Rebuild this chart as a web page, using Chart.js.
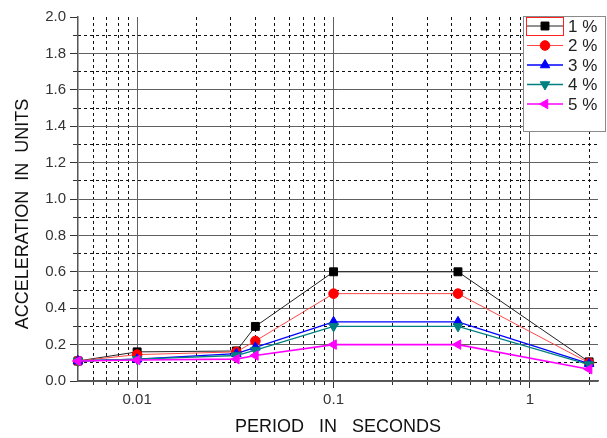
<!DOCTYPE html>
<html>
<head>
<meta charset="utf-8">
<script src="https://cdn.jsdelivr.net/npm/chart.js@4/dist/chart.umd.min.js"></script>
<style>
html,body{margin:0;padding:0;background:#fff;}
#wrap{position:relative;width:607px;height:438px;}
</style>
</head>
<body>
<div id="wrap"><canvas id="c" width="607" height="438"></canvas></div>
<script>
// ---- data ----
const periods = [0.005, 0.01, 0.032, 0.04, 0.1, 0.43, 2.0];
const seriesLabels = ['1 %', '2 %', '3 %', '4 %', '5 %'];
const damp1 = [0.11, 0.16, 0.165, 0.30, 0.60, 0.60, 0.105];
const damp2 = [0.11, 0.145, 0.16, 0.22, 0.48, 0.48, 0.10];
const damp3 = [0.11, 0.12, 0.15, 0.185, 0.325, 0.325, 0.095];
const damp4 = [0.11, 0.12, 0.14, 0.17, 0.30, 0.30, 0.09];
const damp5 = [0.11, 0.115, 0.12, 0.14, 0.20, 0.20, 0.065];
const xMajorTicks = [0.01, 0.1, 1];
const xMinorTicks = [0.006, 0.007, 0.008, 0.009, 0.02, 0.03, 0.04, 0.05, 0.06, 0.07, 0.08, 0.09,
                     0.2, 0.3, 0.4, 0.5, 0.6, 0.7, 0.8, 0.9, 2];
const yMajorTicks = [0, 0.2, 0.4, 0.6, 0.8, 1.0, 1.2, 1.4, 1.6, 1.8, 2.0];
const yMinorTicks = [0.1, 0.3, 0.5, 0.7, 0.9, 1.1, 1.3, 1.5, 1.7, 1.9];
const xRange = [0.005, 2.22];
const yRange = [0, 2];

// ---- styles ----
const styles = [
  {line:'#222222', fill:'#000000', point:'rect', radius:5.6, rot:0, width:1},
  {line:'#ff4848', fill:'#ff0000', point:'circle', radius:4.8, rot:0, width:1},
  {line:'#0000ff', fill:'#0000ff', point:'triangle', radius:5.5, rot:0, width:1.3},
  {line:'#008080', fill:'#008080', point:'triangle', radius:5.5, rot:180, width:1.3},
  {line:'#ff00ff', fill:'#ff00ff', point:'triangle', radius:5.5, rot:270, width:1.6}
];
const allSeries = [damp1, damp2, damp3, damp4, damp5];

const datasets = allSeries.map((vals, i) => ({
  label: seriesLabels[i],
  data: periods.map((p, j) => ({x: p, y: vals[j]})),
  borderColor: styles[i].line,
  borderWidth: styles[i].width,
  pointStyle: styles[i].point,
  pointRadius: styles[i].radius,
  pointRotation: styles[i].rot,
  pointBackgroundColor: styles[i].fill,
  pointBorderColor: styles[i].fill,
  pointBorderWidth: 1,
  tension: 0,
  fill: false,
  clip: false,
  order: 5 - i
}));

const FONT = '"Liberation Sans", Arial, sans-serif';

const legendPlugin = {
  id: 'boxLegend',
  afterDraw(chart) {
    const ctx = chart.ctx;
    const bx = 523.5, by = 16.5, bw = 82, bh = 115;
    ctx.save();
    ctx.fillStyle = '#ffffff';
    ctx.fillRect(bx, by, bw, bh);
    ctx.strokeStyle = '#8a8a8a';
    ctx.lineWidth = 1;
    ctx.strokeRect(bx, by, bw, bh);
    chart.data.datasets.forEach((ds, i) => {
      const y = 26 + i * 19.5;
      ctx.strokeStyle = ds.borderColor;
      ctx.lineWidth = ds.borderWidth;
      ctx.beginPath();
      ctx.moveTo(527, y);
      ctx.lineTo(563, y);
      ctx.stroke();
      ctx.fillStyle = ds.pointBackgroundColor;
      ctx.strokeStyle = ds.pointBorderColor;
      ctx.lineWidth = 1;
      Chart.helpers.drawPoint(ctx, {pointStyle: ds.pointStyle, radius: ds.pointRadius, rotation: ds.pointRotation, borderWidth: 1}, 545, y);
      ctx.fillStyle = '#222222';
      ctx.font = '17px ' + FONT;
      ctx.textBaseline = 'middle';
      ctx.textAlign = 'left';
      ctx.fillText(ds.label, 568, y + 1);
    });
    ctx.strokeStyle = '#ff2020';
    ctx.lineWidth = 1;
    ctx.strokeRect(526.5, 17.5, 37, 18);
    ctx.restore();
  }
};

const near = (a, b) => Math.abs(a - b) < 1e-6;

new Chart(document.getElementById('c'), {
  type: 'line',
  data: { datasets },
  plugins: [legendPlugin],
  options: {
    responsive: false,
    animation: false,
    events: [],
    layout: { padding: { top: 17, right: 9, left: 0, bottom: 0 } },
    plugins: { legend: { display: false }, tooltip: { enabled: false } },
    scales: {
      x: {
        type: 'logarithmic', position: 'bottom', weight: 1,
        min: xRange[0], max: xRange[1],
        afterBuildTicks: s => { s.ticks = xMajorTicks.map(v => ({value: v, major: true})); },
        afterFit: s => { s.height = 57; },
        ticks: {
          autoSkip: false, maxRotation: 0, padding: 3,
          color: '#333333', font: { family: FONT, size: 15 },
          callback: v => String(v)
        },
        grid: { color: '#606060', lineWidth: 1, tickLength: 7, tickColor: '#333333', tickWidth: 1 },
        border: { display: true, color: '#555555', width: 1.5 },
        title: {
          display: true, text: 'PERIOD   IN   SECONDS', color: '#111111',
          font: { family: FONT, size: 18 }, padding: { top: 0, bottom: 0 }
        }
      },
      x2: {
        type: 'logarithmic', position: 'bottom', weight: 0,
        min: xRange[0], max: xRange[1],
        afterBuildTicks: s => { s.ticks = xMinorTicks.map(v => ({value: v})); },
        afterFit: s => { s.height = 0; },
        ticks: { display: false },
        grid: { color: '#111111', lineWidth: 1, tickLength: 4, tickColor: '#333333', tickWidth: 1 },
        border: { display: false, dash: [3, 3] }
      },
      y: {
        type: 'linear', position: 'left', weight: 1,
        min: yRange[0], max: yRange[1],
        afterBuildTicks: s => { s.ticks = yMajorTicks.map(v => ({value: v})); },
        afterFit: s => { s.width = 78; },
        ticks: {
          autoSkip: false, padding: 4,
          color: '#333333', font: { family: FONT, size: 15 },
          callback: v => Number(v).toFixed(1)
        },
        grid: {
          color: c => (c.tick && near(c.tick.value, 2)) ? 'rgba(0,0,0,0)' : '#606060',
          lineWidth: 1, tickLength: 8, tickColor: '#333333', tickWidth: 1
        },
        border: { display: true, color: '#555555', width: 1.5 },
        title: {
          display: true, text: 'ACCELERATION  IN  UNITS      ', color: '#111111',
          font: { family: FONT, size: 18 }, padding: { top: 12, bottom: 0 }
        }
      },
      y2: {
        type: 'linear', position: 'left', weight: 0,
        min: yRange[0], max: yRange[1],
        afterBuildTicks: s => { s.ticks = yMinorTicks.map(v => ({value: v})); },
        afterFit: s => { s.width = 0; },
        ticks: { display: false },
        grid: { color: '#111111', lineWidth: 1, tickLength: 5, tickColor: '#333333', tickWidth: 1 },
        border: { display: false, dash: [3, 3] }
      }
    }
  }
});
</script>
</body>
</html>
